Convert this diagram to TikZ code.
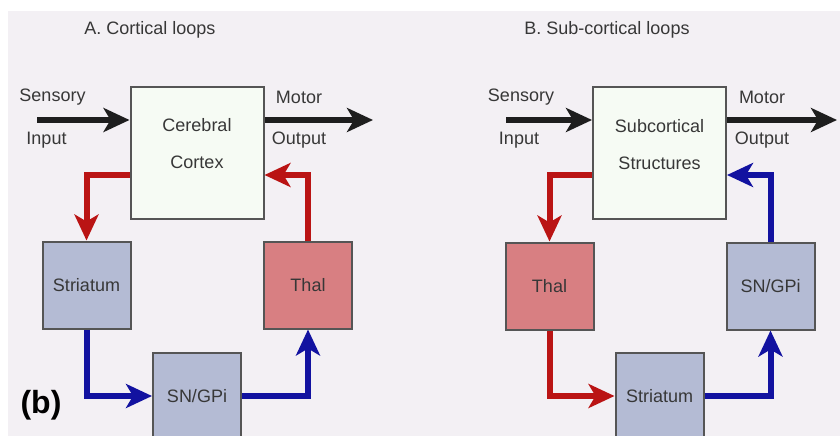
\documentclass[tikz,border=0pt]{standalone}
\usepackage{fontspec}
\setmainfont{Liberation Sans}
\usetikzlibrary{arrows.meta}
\definecolor{bgc}{RGB}{243,240,244}
\definecolor{txc}{RGB}{55,55,55}
\definecolor{edgec}{RGB}{85,85,85}
\definecolor{ctxfill}{RGB}{246,251,244}
\definecolor{bluefill}{RGB}{180,187,212}
\definecolor{pinkfill}{RGB}{216,127,130}
\definecolor{redc}{RGB}{186,20,20}
\definecolor{bluec}{RGB}{18,18,160}
\definecolor{blackc}{RGB}{30,30,30}
\tikzset{
  txt/.style={text=txc,font=\fontsize{18}{21}\selectfont,inner sep=0pt},
  bigbox/.style={draw=edgec,line width=2pt,fill=ctxfill,minimum width=133pt,minimum height=132pt,inner sep=0pt},
  bluebox/.style={draw=edgec,line width=2pt,fill=bluefill,minimum width=88pt,minimum height=87pt,inner sep=0pt,text=txc,font=\fontsize{18}{21}\selectfont},
  pinkbox/.style={bluebox,fill=pinkfill},
  conn/.style={line width=6pt,-{Stealth[length=26pt,width=24pt,inset=7pt]}},
  blackarr/.style={conn,draw=blackc},
  redarr/.style={conn,draw=redc},
  bluearr/.style={conn,draw=bluec}
}
\begin{document}
\begin{tikzpicture}[x=1pt,y=-1pt]
\useasboundingbox (0,0) rectangle (840,436);
\clip (0,0) rectangle (840,436);
\fill[bgc] (8,11) rectangle (840,436);

% ---------- Panel A ----------
\node[txt] (titleA) at (150,30) {A. Cortical loops};
\node[bigbox] (ctx) at (197,153) {};
\node[txt,align=center] (ctxlbl) at (197,144) {Cerebral\\[16pt]Cortex};
\node[bluebox] (strA) at (86.5,285) {Striatum};
\node[pinkbox] (thalA) at (308,285) {Thal};
\node[bluebox] (snA) at (197,396) {SN/GPi};

\coordinate (inA) at (37,120);
\coordinate (outA) at (373,120);
\coordinate (yA) at (0,175);

\node[txt] (sensA) at (52.5,97) {Sensory};
\node[txt] (inpA) at (46.5,140) {Input};
\node[txt] (motA) at (299,97) {Motor};
\node[txt] (outlA) at (299,140) {Output};

\draw[blackarr] (inA) -- (ctx.west |- inA);
\draw[blackarr] (ctx.east |- outA) -- (outA);
\draw[redarr] (ctx.west |- yA) -| (strA.north);
\draw[redarr] (thalA.north) |- (ctx.east |- yA);
\draw[bluearr] (strA.south) |- (snA.west);
\draw[bluearr] (snA.east) -| (thalA.south);

\node[font=\bfseries\fontsize{32}{36}\selectfont,text=black,inner sep=0pt] (blabel) at (41,405) {(b)};

% ---------- Panel B ----------
\node[txt] (titleB) at (607,30) {B. Sub-cortical loops};
\node[bigbox] (sub) at (659.5,153) {};
\node[txt,align=center] (sublbl) at (659.5,145) {Subcortical\\[16pt]Structures};
\node[pinkbox] (thalB) at (549.5,286) {Thal};
\node[bluebox] (snB) at (770.5,286) {SN/GPi};
\node[bluebox] (strB) at (659.5,396) {Striatum};

\coordinate (inB) at (506,120);
\coordinate (outB) at (837,120);

\node[txt] (sensB) at (521,97) {Sensory};
\node[txt] (inpB) at (519,140) {Input};
\node[txt] (motB) at (762,97) {Motor};
\node[txt] (outlB) at (762,140) {Output};

\draw[blackarr] (inB) -- (sub.west |- inB);
\draw[blackarr] (sub.east |- outB) -- (outB);
\draw[redarr] (sub.west |- yA) -| (thalB.north);
\draw[redarr] (thalB.south) |- (strB.west);
\draw[bluearr] (strB.east) -| (snB.south);
\draw[bluearr] (snB.north) |- (sub.east |- yA);
\end{tikzpicture}
\end{document}
